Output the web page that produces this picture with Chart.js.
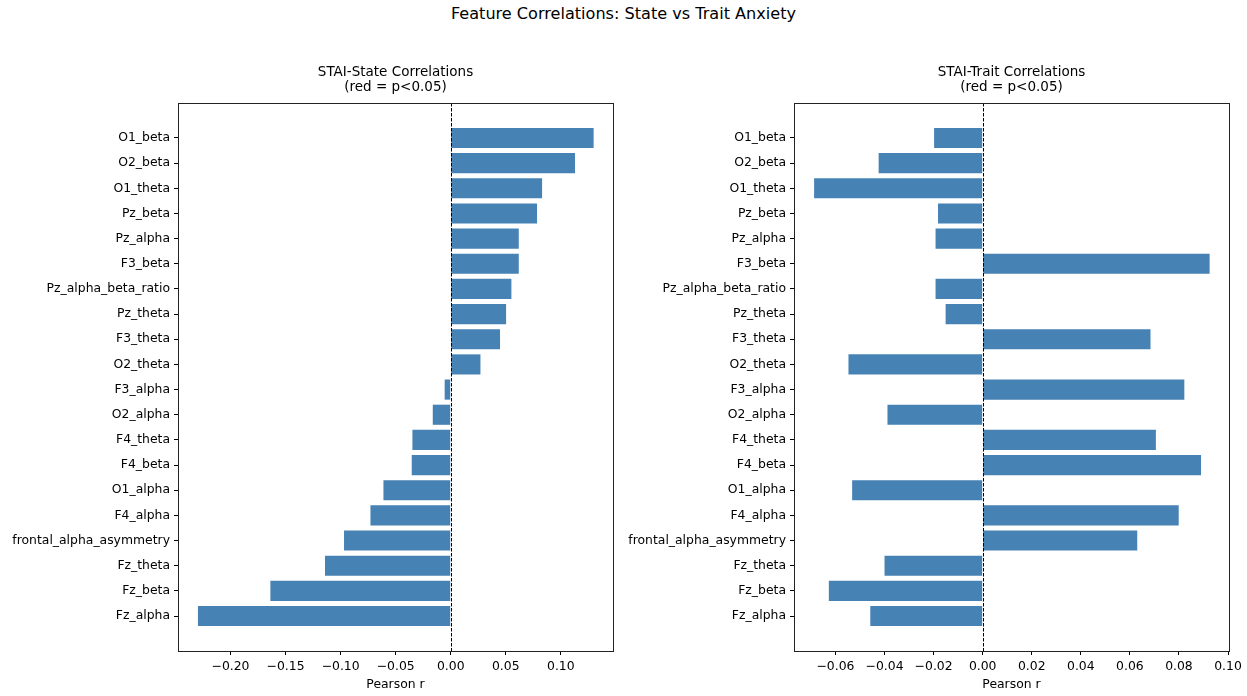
<!DOCTYPE html>
<html>
<head>
<meta charset="utf-8">
<script src="https://cdn.jsdelivr.net/npm/chart.js@4/dist/chart.umd.min.js"></script>
<style>
  body { margin: 0; background: #fff; width: 1247px; height: 696px; position: relative; overflow: hidden; }
  #suptitle { position: absolute; left: 0; top: 4px; width: 1247px; text-align: center;
    font: 16.1px "DejaVu Sans", sans-serif; color: #000; }
  canvas { position: absolute; top: 0; }
  #state_chart { left: 0; }
  #trait_chart { left: 620px; }
</style>
</head>
<body>
<div id="suptitle">Feature Correlations: State vs Trait Anxiety</div>
<canvas id="state_chart" width="640" height="696"></canvas>
<canvas id="trait_chart" width="627" height="696"></canvas>
<script>
const features = [
  "O1_beta", "O2_beta", "O1_theta", "Pz_beta", "Pz_alpha", "F3_beta",
  "Pz_alpha_beta_ratio", "Pz_theta", "F3_theta", "O2_theta", "F3_alpha",
  "O2_alpha", "F4_theta", "F4_beta", "O1_alpha", "F4_alpha",
  "frontal_alpha_asymmetry", "Fz_theta", "Fz_beta", "Fz_alpha",
];
const stateR = [
  0.1298, 0.1129, 0.083, 0.0784, 0.0618, 0.0618, 0.0551, 0.0503, 0.0448, 0.027,
  -0.0055, -0.0163, -0.0348, -0.0354, -0.0611, -0.0729, -0.0969, -0.1142, -0.1638, -0.2296,
];
const traitR = [
  -0.0198, -0.0424, -0.0687, -0.0182, -0.0192, 0.0925, -0.0192, -0.0151, 0.0684, -0.0547,
  0.0822, -0.0388, 0.0706, 0.089, -0.0532, 0.0799, 0.063, -0.04, -0.0627, -0.0458,
];
const stateTicks = [-0.2, -0.15, -0.1, -0.05, 0, 0.05, 0.1];
const traitTicks = [-0.06, -0.04, -0.02, 0, 0.02, 0.04, 0.06, 0.08, 0.1];

Chart.defaults.font.family = "'DejaVu Sans', sans-serif";
Chart.defaults.font.size = 12.4;
Chart.defaults.color = "#000";

// box, zero line and the two-line subplot title, drawn like matplotlib
const axesDecor = {
  id: "axesDecor",
  afterDatasetsDraw(chart) {
    const { ctx, chartArea: a, scales } = chart;
    const x0 = Math.round(scales.x.getPixelForValue(0)) + 0.5;
    ctx.save();
    ctx.strokeStyle = "#000";
    ctx.lineWidth = 1;
    ctx.setLineDash([3.5, 1.5]);
    ctx.beginPath();
    ctx.moveTo(x0, a.top);
    ctx.lineTo(x0, a.bottom);
    ctx.stroke();
    ctx.restore();
  },
  afterDraw(chart) {
    const { ctx, chartArea: a } = chart;
    const opts = chart.options.plugins.axesDecor;
    ctx.save();
    ctx.strokeStyle = "#222";
    ctx.lineWidth = 1;
    ctx.strokeRect(Math.round(a.left) + 0.5, Math.round(a.top) + 0.5,
      Math.round(a.right - a.left), Math.round(a.bottom - a.top));
    const cx = (a.left + a.right) / 2;
    ctx.fillStyle = "#000";
    ctx.textAlign = "center";
    ctx.textBaseline = "middle";
    ctx.font = "13.5px 'DejaVu Sans', sans-serif";
    ctx.fillText(opts.title[0], cx, 72);
    ctx.fillText(opts.title[1], cx, 87);
    ctx.font = "12.4px 'DejaVu Sans', sans-serif";
    ctx.fillText("Pearson r", cx, 685);
    ctx.restore();
  },
};

function makeChart(id, values, ticks, xMin, xMax, title, yWidth, padRight) {
  const ctx = document.getElementById(id).getContext("2d");
  return new Chart(ctx, {
    type: "bar",
    data: {
      datasets: [
        {
          data: values.map((v, i) => ({ x: v, y: i })),
          backgroundColor: "#4682b4",
          borderWidth: 0,
          barPercentage: 0.8,
          categoryPercentage: 1.0,
        },
      ],
    },
    options: {
      indexAxis: "y",
      responsive: false,
      animation: false,
      layout: { padding: { top: 103, right: padRight, bottom: 0, left: 0 } },
      plugins: {
        legend: { display: false },
        tooltip: { enabled: false },
        axesDecor: { title: title },
      },
      scales: {
        y: {
          type: "linear",
          reverse: true,
          offset: false,
          min: -1.39,
          max: 20.39,
          afterBuildTicks: (s) => { s.ticks = features.map((f, i) => ({ value: i })); },
          afterFit: (s) => { s.width = yWidth; },
          grid: { offset: false, drawOnChartArea: false, tickLength: 4, color: "#000", tickColor: "#000" },
          border: { display: false },
          ticks: { padding: 4, autoSkip: false, callback: (v) => features[v] },
        },
        x: {
          type: "linear",
          min: xMin,
          max: xMax,
          afterBuildTicks: (s) => { s.ticks = ticks.map((t) => ({ value: t })); },
          afterFit: (s) => { s.height = 45; },
          grid: { drawOnChartArea: false, tickLength: 4, color: "#000", tickColor: "#000" },
          border: { display: false },
          ticks: {
            padding: 4,
            autoSkip: false,
            maxRotation: 0,
            callback: (v) => v.toFixed(2).replace("-", "\u2212"),
          },
        },
      },
    },
    plugins: [axesDecor],
  });
}

makeChart("state_chart", stateR, stateTicks, -0.2477, 0.1474,
  ["STAI-State Correlations", "(red = p<0.05)"], 178, 27);
makeChart("trait_chart", traitR, traitTicks, -0.0769, 0.1004,
  ["STAI-Trait Correlations", "(red = p<0.05)"], 174, 18);
</script>
</body>
</html>
